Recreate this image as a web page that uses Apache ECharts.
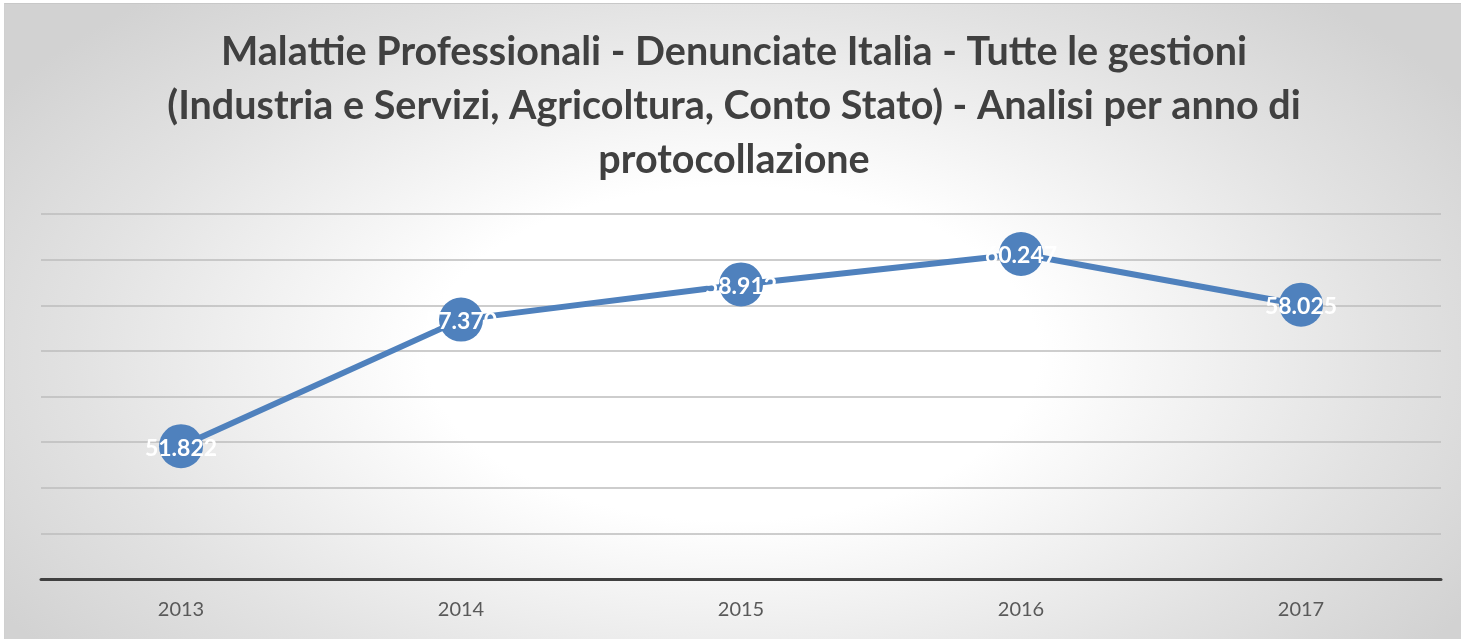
<!DOCTYPE html>
<html><head><meta charset="utf-8">
<script src="https://cdn.jsdelivr.net/npm/echarts@6/dist/echarts.min.js"></script>
<style>
html,body{margin:0;padding:0;background:#fff;width:1468px;height:639px;overflow:hidden}
#frame{position:absolute;left:4px;top:3px;width:1456px;height:636px;
background:radial-gradient(ellipse 60% 75% at 50% 55%, #ffffff 0%, #ffffff 35%, #e2e2e2 75%, #d2d2d2 100%);
border-top:1px solid #c8c8c8;border-left:1px solid #d0d0d0}
#c{position:absolute;left:0;top:0;width:1468px;height:639px}
</style></head><body>
<div id="frame"></div>
<div id="c"></div>
<script>
const titleText = "Malattie Professionali - Denunciate Italia - Tutte le gestioni\n(Industria e Servizi, Agricoltura, Conto Stato) - Analisi per anno di\nprotocollazione";
const years = ["2013","2014","2015","2016","2017"];
const values = [51822, 57370, 58912, 60247, 58025];
const labels = ["51.822","57.370","58.912","60.247","58.025"];

const chart = echarts.init(document.getElementById('c'), null, {renderer:'canvas'});
chart.setOption({
  backgroundColor: 'transparent',
  animation: false,
  title: {
    text: titleText,
    left: 'center',
    top: 20,
    textStyle: {fontFamily: 'Lato', fontWeight: 'bold', fontSize: 39.5, lineHeight: 54, color: '#404040'}
  },
  grid: {left: 41, right: 27, top: 214, bottom: 60, containLabel: false},
  xAxis: {
    type: 'category',
    data: years,
    boundaryGap: true,
    axisLine: {lineStyle: {color: '#404040', width: 3}},
    axisTick: {show: false},
    axisLabel: {fontFamily: 'Lato', fontSize: 20, color: '#595959', margin: 21}
  },
  yAxis: {
    type: 'value',
    min: 46000, max: 62000, interval: 2000,
    axisLine: {show: false},
    axisTick: {show: false},
    axisLabel: {show: false},
    splitLine: {lineStyle: {color: '#bdbdbd', width: 1.5}}
  },
  series: [{
    type: 'line',
    data: values,
    symbol: 'circle',
    symbolSize: 44,
    itemStyle: {color: '#4f81bd'},
    lineStyle: {color: '#4f81bd', width: 6},
    label: {
      show: true,
      position: 'inside',
      offset: [0, 2],
      formatter: p => labels[p.dataIndex],
      color: '#ffffff',
      fontFamily: 'Lato',
      fontWeight: 'bold',
      fontSize: 23
    }
  }]
});
</script>
</body></html>
